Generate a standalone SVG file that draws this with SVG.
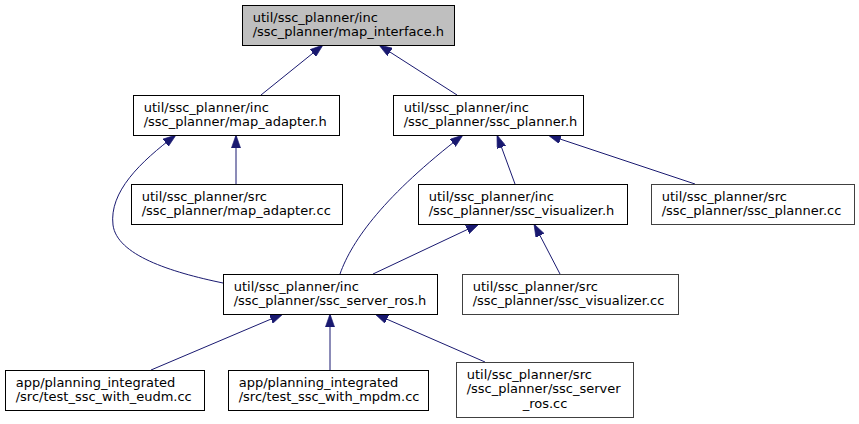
<svg xmlns="http://www.w3.org/2000/svg" width="859" height="424" viewBox="0 0 859 424">
<defs>
<style>
.box{fill:#ffffff;stroke:#000000;stroke-width:1}
.root{fill:#bfbfbf;stroke:#000000;stroke-width:1}
.undoc{fill:#ffffff;stroke:#404040;stroke-width:1}
text{font-family:"DejaVu Sans","Liberation Sans",sans-serif;font-size:13px;fill:#000000}
.edge{fill:none;stroke:#191970;stroke-width:1;marker-end:url(#arrow)}
</style>
<marker id="arrow" viewBox="0 0 10 7" refX="10" refY="3.5" markerWidth="13" markerHeight="9.4" markerUnits="userSpaceOnUse" orient="auto">
<path d="M0,0 L10,3.5 L0,7 z" fill="#191970" stroke="#191970" stroke-width="0.5"/>
</marker>
</defs>
<rect width="859" height="424" fill="#ffffff"/>
<g id="edges">
<path class="edge" d="M261,95 L323,45"/>
<path class="edge" d="M457,95 L379,45"/>
<path class="edge" d="M236,184 L236,135"/>
<path class="edge" d="M223,283 C170,272 117,255 113,225 C109,192 140,162 176,135"/>
<path class="edge" d="M340,274 C352,240 385,195 463,135"/>
<path class="edge" d="M515,184 L497,135"/>
<path class="edge" d="M695,184 L548,135"/>
<path class="edge" d="M373,274 L479,224"/>
<path class="edge" d="M560,274 L534,224"/>
<path class="edge" d="M151,370 L283,314"/>
<path class="edge" d="M330,370 L330,314"/>
<path class="edge" d="M485,362 L375,314"/>
</g>
<g id="map_interface_h">
<rect class="root" x="242.5" y="5.5" width="212" height="40"/>
<text x="252.7" y="21.5">util/ssc_planner/inc</text>
<text x="252.7" y="36.2">/ssc_planner/map_interface.h</text>
</g>
<g id="map_adapter_h">
<rect class="box" x="133.5" y="95.5" width="206" height="40"/>
<text x="143.7" y="111.5">util/ssc_planner/inc</text>
<text x="143.7" y="126.2">/ssc_planner/map_adapter.h</text>
</g>
<g id="ssc_planner_h">
<rect class="box" x="393.5" y="95.5" width="190" height="40"/>
<text x="403.7" y="111.5">util/ssc_planner/inc</text>
<text x="403.7" y="126.2">/ssc_planner/ssc_planner.h</text>
</g>
<g id="map_adapter_cc">
<rect class="box" x="131.5" y="184.5" width="211" height="40"/>
<text x="141.7" y="200.5">util/ssc_planner/src</text>
<text x="141.7" y="215.2">/ssc_planner/map_adapter.cc</text>
</g>
<g id="ssc_visualizer_h">
<rect class="box" x="418.5" y="184.5" width="209" height="40"/>
<text x="428.7" y="200.5">util/ssc_planner/inc</text>
<text x="428.7" y="215.2">/ssc_planner/ssc_visualizer.h</text>
</g>
<g id="ssc_planner_cc">
<rect class="undoc" x="651.5" y="184.5" width="203" height="40"/>
<text x="661.7" y="200.5">util/ssc_planner/src</text>
<text x="661.7" y="215.2">/ssc_planner/ssc_planner.cc</text>
</g>
<g id="ssc_server_ros_h">
<rect class="box" x="223.5" y="274.5" width="214" height="40"/>
<text x="233.7" y="290.5">util/ssc_planner/inc</text>
<text x="233.7" y="305.2">/ssc_planner/ssc_server_ros.h</text>
</g>
<g id="ssc_visualizer_cc">
<rect class="undoc" x="462.5" y="274.5" width="216" height="40"/>
<text x="472.7" y="290.5">util/ssc_planner/src</text>
<text x="472.7" y="305.2">/ssc_planner/ssc_visualizer.cc</text>
</g>
<g id="test_ssc_with_eudm_cc">
<rect class="box" x="5.5" y="370.5" width="199" height="40"/>
<text x="15.7" y="386.5">app/planning_integrated</text>
<text x="15.7" y="401.2">/src/test_ssc_with_eudm.cc</text>
</g>
<g id="test_ssc_with_mpdm_cc">
<rect class="box" x="228.5" y="370.5" width="200" height="40"/>
<text x="238.7" y="386.5">app/planning_integrated</text>
<text x="238.7" y="401.2">/src/test_ssc_with_mpdm.cc</text>
</g>
<g id="ssc_server_ros_cc">
<rect class="undoc" x="456.5" y="362.5" width="177" height="55"/>
<text x="466.7" y="378.5">util/ssc_planner/src</text>
<text x="466.7" y="393.2">/ssc_planner/ssc_server</text>
<text x="545" y="407.9" text-anchor="middle">_ros.cc</text>
</g>
</svg>
